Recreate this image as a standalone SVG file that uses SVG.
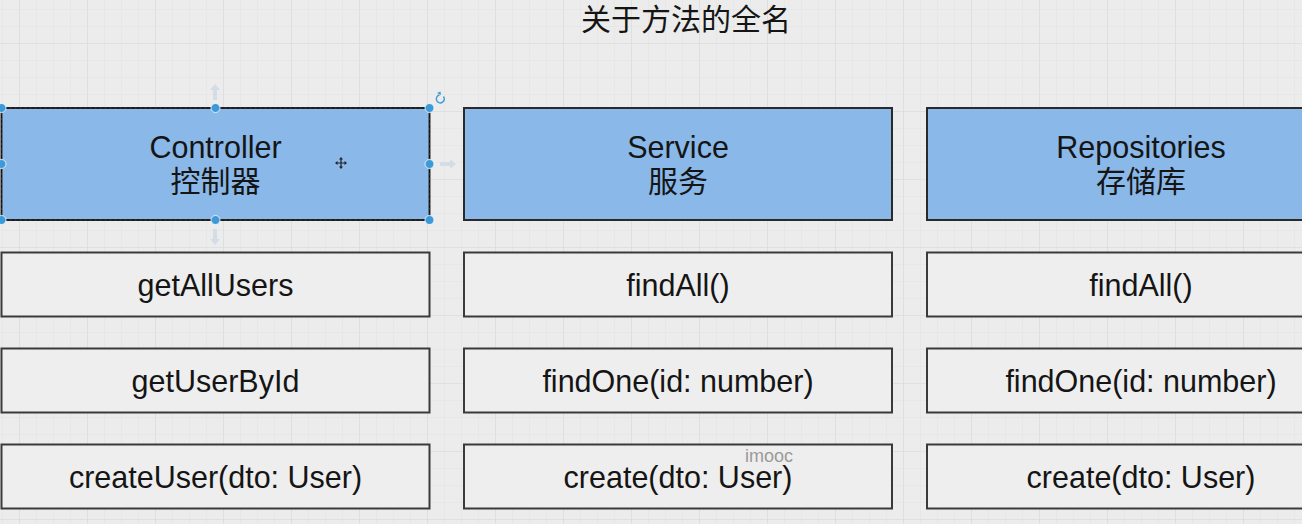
<svg xmlns="http://www.w3.org/2000/svg" width="1302" height="524" viewBox="0 0 1302 524">
<style>
text{font-family:"Liberation Sans","Noto Sans CJK SC",sans-serif;fill:#151515;text-anchor:middle;font-size:30.5px}
.cjk{font-size:30px}
.head{fill:#8ab8e9;stroke:#2a2a2a;stroke-width:2}
.row{fill:#eeeeee;stroke:#3a3a3a;stroke-width:2}
.handle{fill:#3d9ad8;stroke:#ffffff;stroke-width:0.8}
.hint{fill:#d4dde6}
.wm{fill:#9a9a9a;font-size:18px}
</style>
<defs>
<pattern id="minor" width="17" height="17" patternUnits="userSpaceOnUse" x="2" y="9">
<path d="M0 0H17M0 0V17" fill="none" stroke="#e2e2e2" stroke-width="1"/>
</pattern>
<pattern id="major" width="68" height="68" patternUnits="userSpaceOnUse" x="19" y="43">
<path d="M0 0H68M0 0V68" fill="none" stroke="#dadada" stroke-width="1.2"/>
</pattern>
</defs>
<rect width="1302" height="524" fill="#ececec"/>
<rect width="1302" height="524" fill="url(#minor)"/>
<rect width="1302" height="524" fill="url(#major)"/>

<text class="cjk" x="686" y="30">关于方法的全名</text>

<g id="controller">
<rect class="head" x="1.5" y="108" width="428" height="112"/>
<text x="215.5" y="158">Controller</text>
<text class="cjk" x="215.5" y="192">控制器</text>
</g>
<g id="service">
<rect class="head" x="464" y="108" width="428" height="112"/>
<text x="678" y="158">Service</text>
<text class="cjk" x="678" y="192">服务</text>
</g>
<g id="repositories">
<rect class="head" x="927" y="108" width="428" height="112"/>
<text x="1141" y="158">Repositories</text>
<text class="cjk" x="1141" y="192">存储库</text>
</g>

<g id="c-getAllUsers">
<rect class="row" x="1.5" y="252.5" width="428" height="64"/>
<text x="215.5" y="295.5">getAllUsers</text>
</g>
<g id="c-getUserById">
<rect class="row" x="1.5" y="348.5" width="428" height="64"/>
<text x="215.5" y="391.5">getUserById</text>
</g>
<g id="c-createUser">
<rect class="row" x="1.5" y="444.5" width="428" height="64"/>
<text x="215.5" y="487.5">createUser(dto: User)</text>
</g>

<g id="s-findAll">
<rect class="row" x="464" y="252.5" width="428" height="64"/>
<text x="678" y="295.5">findAll()</text>
</g>
<g id="s-findOne">
<rect class="row" x="464" y="348.5" width="428" height="64"/>
<text x="678" y="391.5">findOne(id: number)</text>
</g>
<g id="s-create">
<rect class="row" x="464" y="444.5" width="428" height="64"/>
<text x="678" y="487.5">create(dto: User)</text>
</g>

<g id="r-findAll">
<rect class="row" x="927" y="252.5" width="428" height="64"/>
<text x="1141" y="295.5">findAll()</text>
</g>
<g id="r-findOne">
<rect class="row" x="927" y="348.5" width="428" height="64"/>
<text x="1141" y="391.5">findOne(id: number)</text>
</g>
<g id="r-create">
<rect class="row" x="927" y="444.5" width="428" height="64"/>
<text x="1141" y="487.5">create(dto: User)</text>
</g>

<g id="connectors"></g>

<g id="selection">
<rect x="1.5" y="108" width="428" height="112" fill="none" stroke="#111" stroke-width="1" stroke-dasharray="3 2"/>
<path class="hint" d="M215 84l-5 6h3v10h4v-10h3z"/>
<path class="hint" d="M215 245l-5 -6h3v-10h4v10h3z"/>
<path class="hint" d="M456 164l-6 -5v3h-10v4h10v3z"/>
<path d="M443.5 96.5a4 4 0 1 1 -4 -1.5" fill="none" stroke="#3d9ad8" stroke-width="1.4"/>
<path d="M437 93l3.5 -1.5l0.5 3.5z" fill="#3d9ad8"/>
<circle class="handle" cx="1.5" cy="108" r="4.5"/>
<circle class="handle" cx="215.5" cy="108" r="4.5"/>
<circle class="handle" cx="429.5" cy="108" r="4.5"/>
<circle class="handle" cx="1.5" cy="164" r="4.5"/>
<circle class="handle" cx="429.5" cy="164" r="4.5"/>
<circle class="handle" cx="1.5" cy="220" r="4.5"/>
<circle class="handle" cx="215.5" cy="220" r="4.5"/>
<circle class="handle" cx="429.5" cy="220" r="4.5"/>
<path d="M341 158v10M336 163h10" stroke="#222" stroke-width="1.2"/>
<path d="M341 157l-2 2.5h4zM341 169l-2 -2.5h4zM335 163l2.5 -2v4zM347 163l-2.5 -2v4z" fill="#222"/>
</g>

<text class="wm" x="769" y="462">imooc</text>
</svg>
